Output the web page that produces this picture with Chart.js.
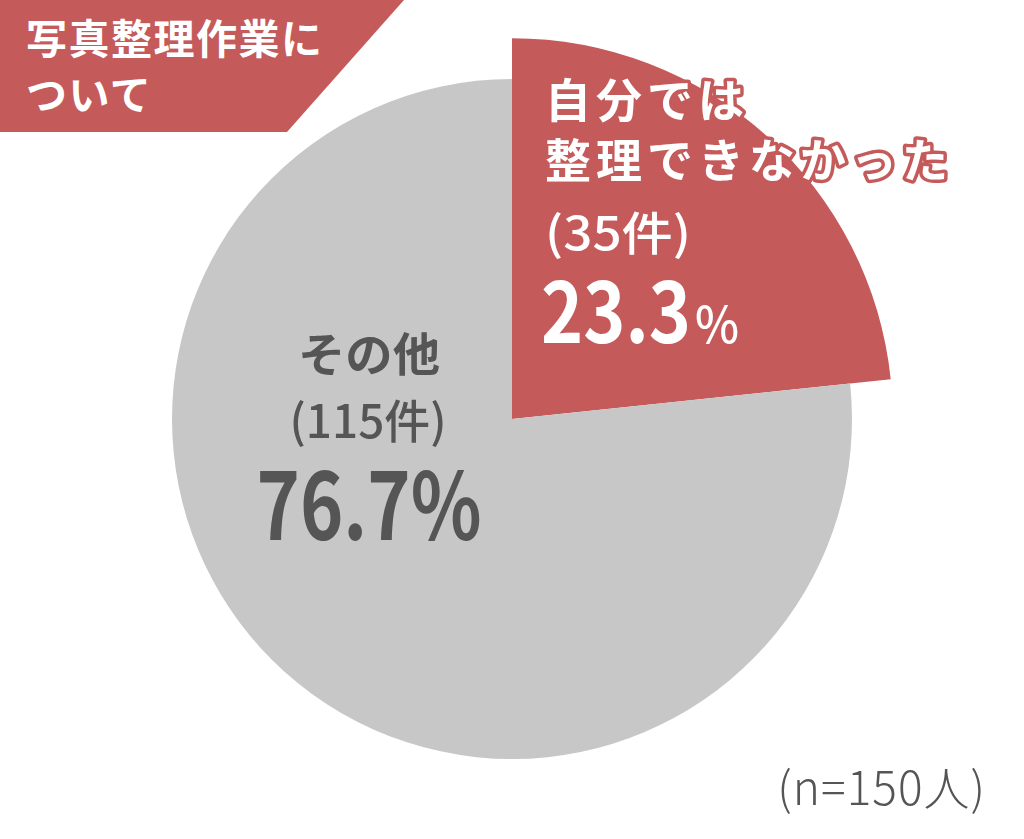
<!DOCTYPE html>
<html lang="ja">
<head>
<meta charset="utf-8">
<title>写真整理作業について</title>
<script src="https://cdn.jsdelivr.net/npm/chart.js@4.4.1/dist/chart.umd.min.js"></script>
<style>
    html, body { margin: 0; padding: 0; background: #fff; }
    body { width: 1024px; height: 839px; position: relative; overflow: hidden;
           font-family: "Noto Sans CJK JP", "Noto Sans", sans-serif; }
    #chart_wrap { position: absolute; left: 0; top: 0; width: 1024px; height: 839px; }
    #title_box {
        position: absolute; left: 0; top: 0; width: 404px; height: 132px;
        background: #c55a5b;
        clip-path: polygon(0 0, 404px 0, 287px 132px, 0 132px);
        color: #fff; font-weight: 700; font-size: 41px; line-height: 56px;
        padding: 8px 0 0 26px; box-sizing: border-box; letter-spacing: 1.5px;
    }
    #n_note {
        position: absolute; right: 38px; top: 752px;
        color: #555; font-size: 46px; font-weight: 300; letter-spacing: 1px;
    }
</style>
</head>
<body>
<div id="chart_wrap"><canvas id="pieChart" width="1024" height="839"></canvas></div>
<div id="title_box">写真整理作業に<br>ついて</div>
<div id="n_note">(n=150人)</div>

<script>
// ---- data ----
var categories = ['自分では整理できなかった', 'その他'];
var counts = [35, 115];
var percents = ['23.3', '76.7'];
var sliceColors = ['#c55a5b', '#c8c7c8'];

/* ── Slice labels + enlarged first slice ─────────────── */
var pieLabels = {
    id: 'pieLabels',
    afterDatasetsUpdate: function (chart) {
        // first slice stands out with a bigger radius
        var arc = chart.getDatasetMeta(0).data[0];
        if (arc) arc.outerRadius = arc.outerRadius * 1.12;
    },
    afterDatasetsDraw: function (chart) {
        var ctx = chart.ctx;
        var meta = chart.getDatasetMeta(0);
        var arc = meta.data[1];
        var cx = arc.x, cy = arc.y, k = arc.outerRadius / 340;
        var jp = '"Noto Sans CJK JP", "Noto Sans", sans-serif';

        ctx.save();
        ctx.lineJoin = 'round';

        // draw text, optionally squeezed to a given width; returns drawn width
        function txt(s, x, y, font, opts) {
            opts = opts || {};
            ctx.font = font;
            ctx.letterSpacing = opts.spacing || '0px';
            var w = ctx.measureText(s).width;
            var sx = opts.width ? (opts.width * k) / w : 1;
            ctx.save();
            ctx.translate(x, y);
            ctx.scale(sx, 1);
            if (opts.outline) {
                ctx.strokeStyle = opts.outline;
                ctx.lineWidth = 7;
                ctx.strokeText(s, 0, 0);
            }
            ctx.fillStyle = opts.color;
            ctx.fillText(s, 0, 0);
            ctx.restore();
            return w * sx;
        }

        // red slice text: white with red outline
        var red = { color: '#fff', outline: sliceColors[0] };
        ctx.textAlign = 'left';
        ctx.textBaseline = 'middle';
        txt('自分では', cx + 33 * k, cy - 319 * k, '700 46px ' + jp, Object.assign({ spacing: '5px' }, red));
        txt('整理できなかった', cx + 33 * k, cy - 259 * k, '700 46px ' + jp, Object.assign({ spacing: '5px' }, red));
        txt('(' + counts[0] + '件)', cx + 33 * k, cy - 186 * k, '500 46px ' + jp, Object.assign({ width: 146 }, red));

        ctx.textBaseline = 'alphabetic';
        var w = txt(percents[0], cx + 29 * k, cy - 76 * k, '700 83px ' + jp, Object.assign({ width: 150 }, red));
        txt('%', cx + 29 * k + w + 4, cy - 76 * k, '500 50px ' + jp, Object.assign({ width: 44 }, red));

        // gray slice text
        var gray = { color: '#555' };
        ctx.textAlign = 'center';
        ctx.textBaseline = 'middle';
        txt('その他', cx - 143 * k, cy - 65 * k, '700 46px ' + jp, Object.assign({ width: 142 }, gray));
        txt('(' + counts[1] + '件)', cx - 144 * k, cy + 2 * k, '500 46px ' + jp, Object.assign({ width: 157 }, gray));
        ctx.textBaseline = 'alphabetic';
        txt(percents[1] + '%', cx - 143 * k, cy + 121 * k, '700 93px ' + jp, Object.assign({ width: 225 }, gray));
        ctx.restore();
    }
};

new Chart(document.getElementById('pieChart'), {
    type: 'pie',
    data: {
        labels: categories,
        datasets: [{
            data: counts,
            backgroundColor: sliceColors,
            borderWidth: 0,
            clip: false
        }]
    },
    options: {
        responsive: false,
        animation: false,
        rotation: 0,
        layout: { padding: { top: 79, bottom: 80, left: 0, right: 0 } },
        plugins: {
            legend: { display: false },
            tooltip: { enabled: false },
            title: { display: false }
        }
    },
    plugins: [pieLabels]
});
</script>
</body>
</html>
